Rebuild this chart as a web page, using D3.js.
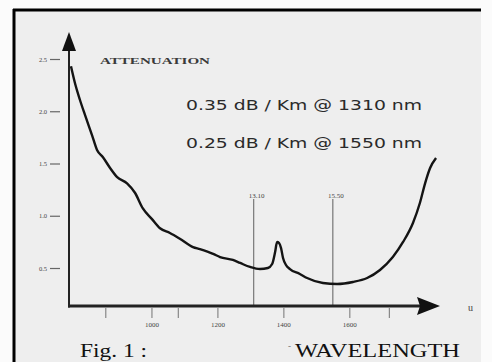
<!DOCTYPE html>
<html><head><meta charset="utf-8">
<script src="https://cdn.jsdelivr.net/npm/d3@7"></script>
<style>html,body{margin:0;padding:0;background:#fbfbfb;}svg{display:block;}</style>
</head><body>
<svg id="chart" width="492" height="362"></svg>
<script>
// ---- data ----
const wavelength = [756,768,783,799,820,835,853,874,896,926,950,974,1001,1026,1056,1086,1126,1147,1187,1208,1247,1269,1299,1329,1353,1366,1375,1381,1387,1393,1399,1408,1420,1450,1472,1520,1563,1611,1654,1693,1732,1763,1793,1814,1830,1845,1863];
const attenuation = [2.43,2.27,2.11,1.96,1.77,1.63,1.56,1.46,1.37,1.31,1.22,1.07,0.97,0.88,0.835,0.78,0.70,0.68,0.635,0.605,0.577,0.548,0.51,0.49,0.50,0.538,0.653,0.749,0.739,0.69,0.596,0.529,0.49,0.443,0.404,0.356,0.347,0.366,0.404,0.481,0.605,0.749,0.931,1.122,1.313,1.457,1.553];
const yTickValues = [0.5, 1.0, 1.5, 2.0, 2.5];
const yTickLabels = ["0.5", "1.0", "1.5", "2.0", "2.5"];
const xTickValues = [860, 1000, 1080, 1200, 1400, 1600, 1720];
const xTickLabels = ["", "1000", "", "1200", "1400", "1600", ""];
const markerValues = [1310, 1550];
const markerLabels = ["13.10", "15.50"];
const specLines = ["0.35 dB / Km @ 1310 nm", "0.25 dB / Km @ 1550 nm"];

// ---- layout ----
const W = 492, H = 362;
const svg = d3.select("#chart");
const x = d3.scaleLinear().domain([750, 1875]).range([69, 440]);
const y = d3.scaleLinear().domain([0.5, 2.5]).range([268, 59]);
const axisY0 = 306, axisTop = 32;

// frame
svg.append("rect").attr("x", 0).attr("y", 0).attr("width", W).attr("height", H).attr("fill", "#fbfbfb");
svg.append("rect").attr("x", 14).attr("y", 10).attr("width", 467).attr("height", H).attr("fill", "#eeeeee");
svg.append("line").attr("x1", 14).attr("x2", 14).attr("y1", 9).attr("y2", H).attr("stroke", "#000").attr("stroke-width", 3);
svg.append("line").attr("x1", 13).attr("x2", 481).attr("y1", 10).attr("y2", 10).attr("stroke", "#000").attr("stroke-width", 3);

// marker lines
markerValues.forEach((m, i) => {
  svg.append("line").attr("x1", x(m)).attr("x2", x(m)).attr("y1", 199).attr("y2", axisY0)
    .attr("stroke", "#777").attr("stroke-width", 1.2);
  svg.append("text").attr("x", x(m) + 3).attr("y", 198).attr("text-anchor", "middle")
    .attr("font-family", "Liberation Serif").attr("font-size", 7).attr("fill", "#444").text(markerLabels[i]);
});

// x axis ticks
const xAxis = d3.axisBottom(x).tickValues(xTickValues).tickSize(10).tickPadding(4)
  .tickFormat((d, i) => xTickLabels[i]);
const gx = svg.append("g").attr("transform", `translate(0,${axisY0 + 2})`).call(xAxis);
gx.select(".domain").remove();
gx.selectAll(".tick line").attr("stroke", "#888").attr("stroke-width", 1.2);
gx.selectAll(".tick text").attr("font-family", "Liberation Serif").attr("font-size", 7).attr("fill", "#444");

// y axis ticks
const yAxis = d3.axisLeft(y).tickValues(yTickValues).tickSize(10).tickPadding(3)
  .tickFormat((d, i) => yTickLabels[i]);
const gy = svg.append("g").attr("transform", `translate(60,0)`).call(yAxis);
gy.select(".domain").remove();
gy.selectAll(".tick line").attr("stroke", "#666").attr("stroke-width", 1.2);
gy.selectAll(".tick text").attr("font-family", "Liberation Serif").attr("font-size", 6.5).attr("fill", "#444");

// axes lines with arrows
const x0 = x.range()[0], x1 = x.range()[1];
svg.append("line").attr("x1", x0).attr("x2", x0).attr("y1", axisY0 + 1.5).attr("y2", axisTop + 14)
  .attr("stroke", "#222").attr("stroke-width", 2);
svg.append("path").attr("d", `M${x0},${axisTop} L${x0 - 7},${axisTop + 19} L${x0 + 7},${axisTop + 19} Z`).attr("fill", "#111");
svg.append("line").attr("x1", x0 - 1).attr("x2", x1 - 18).attr("y1", axisY0).attr("y2", axisY0)
  .attr("stroke", "#222").attr("stroke-width", 3);
svg.append("path").attr("d", `M${x1},${axisY0} L${x1 - 23},${axisY0 - 9} L${x1 - 20},${axisY0} L${x1 - 23},${axisY0 + 9} Z`).attr("fill", "#111");

// curve
const curve = d3.line().x((d, i) => x(wavelength[i])).y(d => y(d)).curve(d3.curveMonotoneX);
svg.append("path").datum(attenuation).attr("d", curve).attr("fill", "none")
  .attr("stroke", "#141414").attr("stroke-width", 2.4).attr("stroke-linejoin", "round");

// texts
svg.append("text").attr("x", 100).attr("y", 64).attr("font-family", "Liberation Serif").attr("font-weight", "bold")
  .attr("font-size", 8.5).attr("fill", "#3a3a3a").attr("textLength", 110).attr("lengthAdjust", "spacingAndGlyphs").text("ATTENUATION");
specLines.forEach((t, i) => {
  svg.append("text").attr("x", 186).attr("y", 110 + i * 38).attr("font-family", "DejaVu Sans")
    .attr("font-size", 14).attr("fill", "#2a2a2a").attr("textLength", 236).attr("lengthAdjust", "spacingAndGlyphs").text(t);
});
svg.append("text").attr("x", 468).attr("y", 311).attr("font-family", "Liberation Serif").attr("font-size", 10).attr("fill", "#444").text("u");
svg.append("text").attr("x", 80).attr("y", 357).attr("font-family", "Liberation Serif").attr("font-size", 19).attr("fill", "#111")
  .attr("textLength", 67).attr("lengthAdjust", "spacingAndGlyphs").text("Fig. 1 :");
svg.append("text").attr("x", 288).attr("y", 349).attr("font-family", "Liberation Serif").attr("font-size", 9).attr("fill", "#666").text("-");
svg.append("text").attr("x", 295).attr("y", 357).attr("font-family", "Liberation Serif").attr("font-size", 19).attr("fill", "#111")
  .attr("textLength", 165).attr("lengthAdjust", "spacingAndGlyphs").text("WAVELENGTH");
</script>
</body></html>
